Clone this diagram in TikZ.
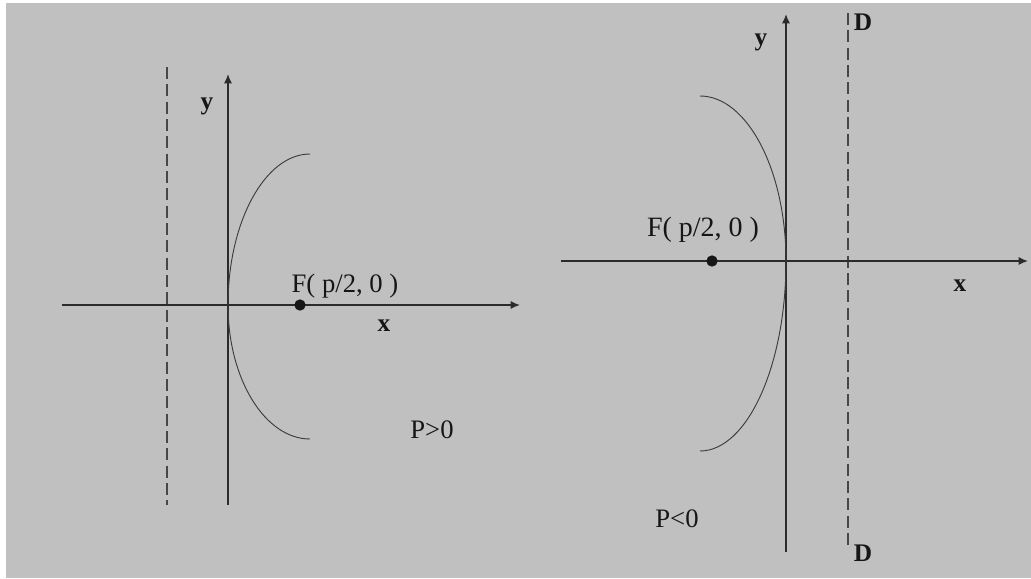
\documentclass[tikz,border=0pt]{standalone}
\usepackage{fontspec}
\setmainfont{Liberation Serif}
\usetikzlibrary{arrows.meta}
\definecolor{pbBack}{HTML}{C0C0C0}
\definecolor{pbInk}{HTML}{161616}
\definecolor{pbAxis}{HTML}{2B2B2B}
\definecolor{pbCurve}{HTML}{3C3C3C}
\definecolor{pbDash}{HTML}{474747}
\tikzset{
  pb diagram/.style={x=0.75pt, y=-0.75pt, text=pbInk,
    line cap=butt, line join=miter},
  pb axis/.style={draw=pbAxis, line width=1.1pt,
    -{Latex[length=7pt,width=6pt]}},
  pb curve/.style={draw=pbCurve, line width=0.7pt},
  pb directrix/.style={draw=pbDash, line width=0.8pt,
    dash pattern=on 9pt off 4pt},
  pb label/.style={font=\fontsize{20}{22}\selectfont, inner sep=0pt},
  pb big label/.style={font=\fontsize{21}{23}\selectfont, inner sep=0pt},
  pb axis label/.style={font=\fontsize{19}{21}\selectfont\bfseries, inner sep=0pt},
  pb focus/.style={circle, fill=pbInk, inner sep=0pt, minimum size=8.5pt}
}

\begin{document}
\begin{tikzpicture}[pb diagram]
\useasboundingbox (0,0) rectangle (1031,578);
\fill[white] (0,0) rectangle (1031,578);
\fill[pbBack] (6,3) rectangle (1031,578);

% left panel, p > 0
\coordinate (xLs) at (62,305);
\coordinate (xLe) at (520,305);
\coordinate (yLs) at (228,505);
\coordinate (yLe) at (228,74);
\coordinate (dLt) at (167,67);
\coordinate (dLb) at (167,505);
\coordinate (vL) at (228,305);
\coordinate (topL) at (310,154);
\coordinate (botL) at (310,439);
\draw[pb directrix] (dLt) -- (dLb);
\draw[pb axis] (xLs) -- (xLe);
\draw[pb axis] (yLs) -- (yLe);
\draw[pb curve] (topL) .. controls (265,154) and (228,222) .. (vL)
  .. controls (228,379) and (265,439) .. (botL);
\node[pb focus] (focusL) at (300,305) {};
\node[pb label] (fLabL) at (345,286) {F( p/2, 0 )};
\node[pb axis label] (xLabL) at (384,326) {x};
\node[pb axis label] (yLabL) at (207,106) {y};
\node[pb label] (signL) at (432,430) {P>0};

% right panel, p < 0
\coordinate (xRs) at (561,261);
\coordinate (xRe) at (1028,261);
\coordinate (yRs) at (786,552);
\coordinate (yRe) at (786,14);
\coordinate (dRt) at (848,13);
\coordinate (dRb) at (848,548);
\coordinate (vR) at (786,261);
\coordinate (topR) at (700,96);
\coordinate (botR) at (700,451);
\draw[pb directrix] (dRt) -- (dRb);
\draw[pb axis] (xRs) -- (xRe);
\draw[pb axis] (yRs) -- (yRe);
\draw[pb curve] (topR) .. controls (747,96) and (786,170) .. (vR)
  .. controls (786,366) and (747,451) .. (botR);
\node[pb focus] (focusR) at (712,261) {};
\node[pb big label] (fLabR) at (703,230) {F( p/2, 0 )};
\node[pb axis label] (xLabR) at (960,286) {x};
\node[pb axis label] (yLabR) at (761,42) {y};
\node[pb axis label] (dLabT) at (863,22) {D};
\node[pb axis label] (dLabB) at (863,553) {D};
\node[pb label] (signR) at (677,519) {P<0};
\end{tikzpicture}
\end{document}
